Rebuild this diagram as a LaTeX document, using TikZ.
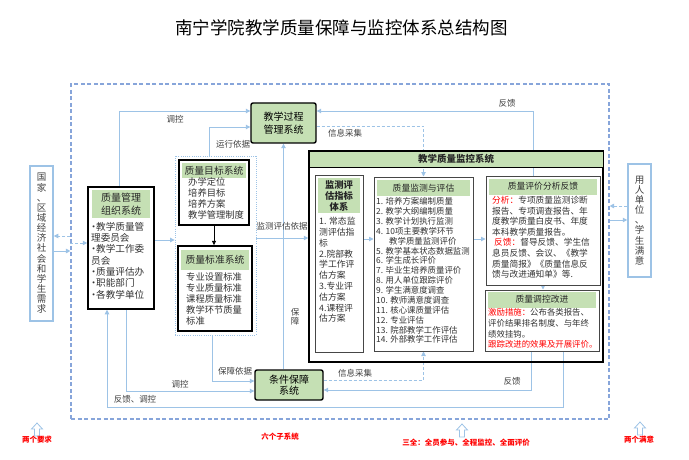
\documentclass[tikz,border=0pt]{standalone}
\usepackage{fontspec}
\setmainfont{Noto Sans CJK SC}
\usetikzlibrary{arrows.meta,calc}
\definecolor{lblue}{RGB}{157,195,230}
\definecolor{dblue}{RGB}{135,165,218}
\definecolor{hgreen}{RGB}{197,224,180}
\definecolor{tgray}{RGB}{64,64,64}
\definecolor{bgray}{RGB}{70,70,70}
\newcommand\mybul{\makebox[5pt][c]{•}}
\pgfdeclarelayer{bg}
\pgfsetlayers{bg,main}
\begin{document}
\begin{tikzpicture}[x=1pt,y=-1pt,
  blink/.style={draw=lblue, line width=0.9pt},
  barrow/.style={blink, -{Triangle[length=4.5pt,width=4.5pt]}},
  dashlink/.style={barrow, dash pattern=on 3pt off 2pt},
  karrow/.style={draw=black, line width=0.8pt, -{Triangle[length=4.5pt,width=4pt]}},
  kbox/.style={draw=black, line width=1.5pt, fill=white, inner sep=0pt},
  ibox/.style={draw=bgray, line width=1pt, fill=white, inner sep=0pt},
  gbox/.style={draw=black, line width=1.4pt, fill=hgreen, rounded corners=2pt, align=center, inner sep=0pt, font=\fontsize{10}{13}\selectfont},
  sbox/.style={draw=lblue, line width=1.5pt, fill=white, align=center, inner sep=0pt, text=tgray, font=\fontsize{9.5}{10.15}\selectfont},
  hdr/.style={fill=hgreen, inner sep=0pt, align=center, text=black!85},
  body/.style={inner sep=0pt, align=left, anchor=north west, text=black!80},
  lab/.style={text=tgray, inner sep=1pt, font=\fontsize{8.5}{9.5}\selectfont},
  redlab/.style={text=red, inner sep=1pt, font=\fontsize{7.5}{9}\selectfont\bfseries},
  hollow/.style={draw=lblue, line width=0.8pt, fill=white},
  outerbox/.style={draw=dblue, line width=1.1pt, dash pattern=on 4pt off 2.5pt, inner sep=0pt},
  dotbox/.style={draw=lblue, line width=0.8pt, dash pattern=on 1pt off 1.2pt, inner sep=0pt}]
\useasboundingbox (0,0) rectangle (689,460);

% title
\node (title) at (341.5,28) {\fontsize{17.5}{20}\selectfont 南宁学院教学质量保障与监控体系总结构图};

% outer dashed frame
\node[outerbox, minimum width=538pt, minimum height=335pt] (outer) at (340,251.5) {};

% side boxes
\node[sbox, minimum width=23pt, minimum height=155pt] (need) at (41.5,243.5)
  {国\\家\\、\\区\\域\\经\\济\\社\\会\\和\\学\\生\\需\\求};
\node[sbox, minimum width=23pt, minimum height=113pt] (serve) at (639.5,220.5)
  {用\\人\\单\\位\\、\\学\\生\\满\\意};

% quality management organisation
\node[kbox, minimum width=66pt, minimum height=122pt] (org) at (121,248) {};
\node[hdr, minimum width=58pt, minimum height=28pt, font=\fontsize{10}{12.5}\selectfont] (orgh) at (121,204) {质量管理\\组织系统};
\node[body, font=\fontsize{9.6}{11.3}\selectfont] (orgb) at (91,222)
  {\mybul 教学质量管\\理委员会\\\mybul 教学工作委\\员会\\\mybul 质量评估办\\\mybul 职能部门\\\mybul 各教学单位};

% dotted group
\node[dotbox, minimum width=81pt, minimum height=179pt] (dotbox) at (215.5,245.5) {};
\node[kbox, minimum width=70pt, minimum height=65pt] (goal) at (214,192.5) {};
\node[hdr, minimum width=64pt, minimum height=15pt, font=\fontsize{9.8}{11}\selectfont] (goalh) at (214,170.5) {质量目标系统};
\node[body, font=\fontsize{9.3}{11.3}\selectfont] (goalb) at (188,177)
  {办学定位\\培养目标\\培养方案\\教学管理制度};
\node[kbox, minimum width=74pt, minimum height=85pt] (std) at (215,288.5) {};
\node[hdr, minimum width=68pt, minimum height=20pt, font=\fontsize{9.8}{11}\selectfont] (stdh) at (215,259.5) {质量标准系统};
\node[body, font=\fontsize{9.3}{11}\selectfont] (stdb) at (186,272)
  {专业设置标准\\专业质量标准\\课程质量标准\\教学环节质量\\标准};

% process & condition systems
\node[gbox, minimum width=65pt, minimum height=40pt] (proc) at (283.5,123) {教学过程\\管理系统};
\node[gbox, minimum width=68pt, minimum height=30pt, font=\fontsize{10}{11.5}\selectfont] (cond) at (289,385) {条件保障\\系统};

% monitoring system
\node[draw=black, line width=1.5pt, minimum width=294pt, minimum height=211pt, inner sep=0pt] (mon) at (456,256.5) {};
\node[hdr, draw=black, line width=0.8pt, minimum width=294pt, minimum height=16pt, font=\fontsize{9.5}{11}\selectfont\bfseries] (monh) at (456,159) {教学质量监控系统};

\node[ibox, minimum width=48pt, minimum height=177pt] (ind) at (339,263.5) {};
\node[hdr, minimum width=42pt, minimum height=35pt, font=\fontsize{9.3}{11}\selectfont\bfseries] (indh) at (339,195.5) {监测评\\估指标\\体系};
\node[body, font=\fontsize{8.8}{10.8}\selectfont] (indb) at (319,217)
  {1. 常态监\\测评估指\\标\\2.院部教\\学工作评\\估方案\\3.专业评\\估方案\\4.课程评\\估方案};

\node[ibox, minimum width=99pt, minimum height=174pt] (qm) at (423.5,264) {};
\node[hdr, minimum width=93pt, minimum height=16pt, font=\fontsize{8.8}{10}\selectfont] (qmh) at (423.5,188) {质量监测与评估};
\node[body, font=\fontsize{8.4}{9.86}\selectfont] (qmb) at (376,197.5)
  {1. 培养方案编制质量\\2. 教学大纲编制质量\\3. 教学计划执行监测\\4. 10项主要教学环节\\\hspace*{13pt}教学质量监测评价\\5. 教学基本状态数据监测\\6. 学生成长评价\\7. 毕业生培养质量评价\\8. 用人单位跟踪评价\\9. 学生满意度调查\\10. 教师满意度调查\\11. 核心课质量评估\\12. 专业评估\\13. 院部教学工作评估\\14. 外部教学工作评估};

\node[ibox, minimum width=114pt, minimum height=109pt] (eval) at (543,230.5) {};
\node[hdr, minimum width=108pt, minimum height=16pt, font=\fontsize{8.8}{10}\selectfont] (evalh) at (543,186.5) {质量评价分析反馈};
\node[body, font=\fontsize{8.7}{10.6}\selectfont] (evalb) at (492,196)
  {\textcolor{red}{分析：}专项质量监测诊断\\报告、专项调查报告、年\\度教学质量白皮书、年度\\本科教学质量报告。\\\hspace*{2pt}\textcolor{red}{反馈：}督导反馈、学生信\\息员反馈、会议、《教学\\质量简报》《质量信息反\\馈与改进通知单》等.};

\node[ibox, minimum width=114pt, minimum height=61pt] (ctrl) at (542,320.5) {};
\node[hdr, minimum width=108pt, minimum height=16pt, font=\fontsize{8.8}{10}\selectfont] (ctrlh) at (542,299.5) {质量调控改进};
\node[body, font=\fontsize{8.4}{10.7}\selectfont] (ctrlb) at (488,308.5)
  {\textcolor{red}{激励措施：}公布各类报告、\\评价结果排名制度、与年终\\绩效挂钩。\\\textcolor{red}{跟踪改进的效果及开展评价。}};

% helper coordinates
\coordinate (yL1) at (0,251);
\coordinate (yL2) at (0,236);
\coordinate (yL3) at (0,243);
\coordinate (yR1) at (0,206);
\coordinate (yR2) at (0,220);
\coordinate (yM) at (0,240);
\coordinate (yM2) at (0,238);
\coordinate (yI) at (0,239);
\coordinate (yT1) at (0,111);
\coordinate (yT2) at (0,127);
\coordinate (yT3) at (0,126);
\coordinate (xO1) at (119,0);
\coordinate (xD1) at (209,0);
\coordinate (xE1) at (533,0);
\coordinate (xD2) at (212,0);
\coordinate (xO2) at (126,0);
\coordinate (xO3) at (107,0);
\coordinate (xC1) at (563,0);
\coordinate (xC2) at (531,0);
\coordinate (yB1) at (0,381);
\coordinate (yB2) at (0,391);
\coordinate (yB3) at (0,407);
\coordinate (yB4) at (0,390);
\coordinate (yB5) at (0,380);

\begin{pgfonlayer}{bg}
% left / right
\draw[barrow] (need.east |- yL1) -- (outer.west |- yL1);
\draw[dashlink] (outer.west |- yL2) -- (need.east |- yL2);
\draw[dashlink] (outer.west |- yL3) -- (org.west |- yL3);
\draw[dashlink] (serve.west |- yR1) -- (outer.east |- yR1);
\draw[barrow] (outer.east |- yR2) -- (serve.west |- yR2);
% middle
\draw[barrow] (org.east |- yM) -- (dotbox.west |- yM);
\draw[barrow] (dotbox.east |- yM2) -- (mon.west |- yM2);
\draw[barrow] (ind.east |- yI) -- (qm.west |- yI);
\draw[barrow] (qm.east |- yI) -- (eval.west |- yI);
\draw[barrow] (eval.south) -- (eval.south |- ctrl.north);
% top
\draw[barrow] (org.north -| xO1) |- (proc.west |- yT1);
\draw[barrow] (dotbox.north -| xD1) |- (proc.west |- yT2);
\draw[barrow] (eval.north -| xE1) |- (proc.east |- yT1);
\draw[dashlink] (proc.east |- yT3) -| (qm.north);
\draw[barrow] (cond.north -| proc.south) -- (proc.south);
% bottom
\draw[barrow] (dotbox.south -| xD2) |- (cond.west |- yB1);
\draw[barrow] (org.south -| xO2) |- (cond.west |- yB2);
\draw[barrow] (ctrl.south -| xC1) |- (xO3 |- yB3) -- (org.south -| xO3);
\draw[barrow] (ctrl.south -| xC2) |- (cond.east |- yB4);
\draw[dashlink] (cond.east |- yB5) -| (qm.south);
\end{pgfonlayer}

\draw[karrow] (goal.south) -- (goal.south |- std.north);

% connector labels
\node[lab] (l1) at (175,119) {调控};
\node[lab] (l2) at (233,144) {运行依据};
\node[lab] (l3) at (507,103) {反馈};
\node[lab] (l4) at (345,133) {信息采集};
\node[lab] (l5) at (282,226) {监测评估依据};
\node[lab, align=center, font=\fontsize{8.5}{9.5}\selectfont] (l6) at (295,317) {保\\障};
\node[lab] (l7) at (235,371) {保障依据};
\node[lab] (l8) at (180,384) {调控};
\node[lab] (l9) at (135,399) {反馈、调控};
\node[lab] (l10) at (512,381) {反馈};
\node[lab] (l11) at (355,373) {信息采集};

% hollow arrows
\draw[hollow, shift={(37,423)}] (-2.5,13) -- (-2.5,6) -- (-5.5,6) -- (0,0) -- (5.5,6) -- (2.5,6) -- (2.5,13) -- cycle;
\draw[hollow, shift={(462,424)}] (-2.5,13) -- (-2.5,6) -- (-5.5,6) -- (0,0) -- (5.5,6) -- (2.5,6) -- (2.5,13) -- cycle;
\draw[hollow, shift={(640,422)}] (-2.5,13) -- (-2.5,6) -- (-5.5,6) -- (0,0) -- (5.5,6) -- (2.5,6) -- (2.5,13) -- cycle;

% red labels
\node[redlab] (r1) at (37,439.5) {两个要求};
\node[redlab] (r2) at (280,437) {六个子系统};
\node[redlab] (r3) at (466,443) {三全：全员参与、全程监控、全面评价};
\node[redlab] (r4) at (639,440) {两个满意};
\end{tikzpicture}
\end{document}
